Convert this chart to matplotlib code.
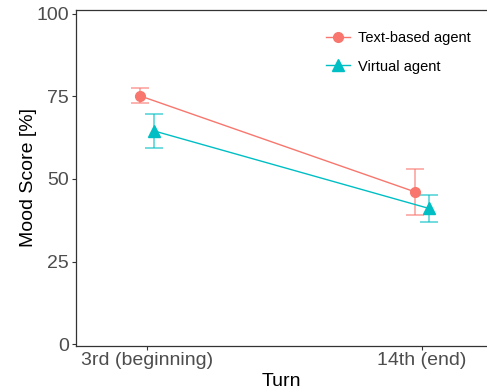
import matplotlib.pyplot as plt
import numpy as np

plt.rcParams['font.family'] = ['Liberation Sans', 'DejaVu Sans']

# data
turns = ['3rd (beginning)', '14th (end)']
text_mean = [75.2, 46.1]
text_lo = [72.9, 39.0]
text_hi = [77.5, 52.9]
virt_mean = [64.6, 41.1]
virt_lo = [59.3, 37.0]
virt_hi = [69.6, 45.2]

red = '#F8766D'
teal = '#00BFC4'

fig = plt.figure(figsize=(4.87, 3.9), dpi=100)
ax = fig.add_axes([75.5 / 487, 1 - 346 / 390, 1 - 75.5 / 487, 336 / 390])

x = np.arange(1, len(turns) + 1)
dodge = 0.025

def draw(xs, mean, lo, hi, color, marker, label, ms):
    mean = np.array(mean)
    yerr = [mean - np.array(lo), np.array(hi) - mean]
    ax.errorbar(xs, mean, yerr=yerr, fmt='none', ecolor=color, elinewidth=1.2,
                capsize=6.5, capthick=1.2, alpha=0.65, zorder=2)
    ax.plot(xs, mean, color=color, lw=1.0, marker=marker, ms=ms,
            label=label, zorder=3)

draw(x - dodge, text_mean, text_lo, text_hi, red, 'o', 'Text-based agent', 7)
draw(x + dodge, virt_mean, virt_lo, virt_hi, teal, '^', 'Virtual agent', 8)

ax.set_xlim(0.741, 2.237)
ax.set_ylim(-0.6, 101.2)
ax.set_xticks(x)
ax.set_xticklabels(turns)
ax.set_yticks([0, 25, 50, 75, 100])

ax.spines['right'].set_visible(False)
for s in ['left', 'bottom', 'top']:
    ax.spines[s].set_color('#333333')
    ax.spines[s].set_linewidth(0.9)

ax.tick_params(axis='both', colors='#333333', labelcolor='#4D4D4D',
               labelsize=14, length=3, width=0.8, pad=1.5)
ax.set_ylabel('Mood Score [%]', fontsize=14, color='black', labelpad=0)
ax.set_xlabel('Turn', fontsize=14, color='black', labelpad=3)

ax.legend(loc='upper left', bbox_to_anchor=(0.595, 0.955), frameon=False,
          fontsize=10.5, handlelength=1.6, handletextpad=0.6,
          labelspacing=1.0, borderaxespad=0)

fig.savefig('out.png', dpi=100)
